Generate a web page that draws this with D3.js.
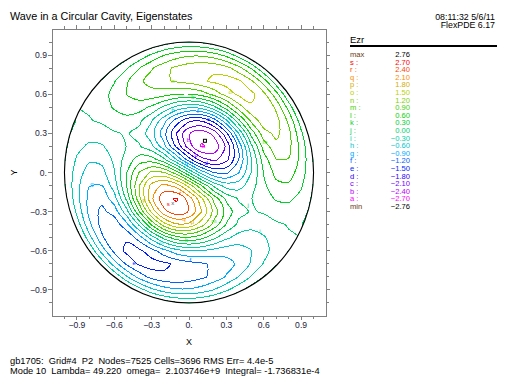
<!DOCTYPE html>
<html>
<head>
<meta charset="utf-8">
<script src="https://cdn.jsdelivr.net/npm/d3@7"></script>
<style>
  body { margin: 0; background: #fff; }
  text { font-family: "Liberation Sans", Arial, sans-serif; }
</style>
</head>
<body>
<div id="chart"></div>
<script>
// chart size and frame
const width = 512
const height = 384
const frame = { left: 52, right: 326, top: 29, bottom: 316 }

// contour levels (legend)
const levelLetters = ['a','b','c','d','e','f','g','h','i','j','k','l','m','n','o','p','q','r','s']
const levelValues = [-2.70,-2.40,-2.10,-1.80,-1.50,-1.20,-0.90,-0.60,-0.30,0.00,0.30,0.60,0.90,1.20,1.50,1.80,2.10,2.40,2.70]
const fieldMax = 2.76
const fieldMin = -2.76

// axis ticks
const axisTicks = [-0.9,-0.6,-0.3,0,0.3,0.6,0.9]
const minorTicks = [-1.0,-0.9,-0.8,-0.7,-0.6,-0.5,-0.4,-0.3,-0.2,-0.1,0,0.1,0.2,0.3,0.4,0.5,0.6,0.7,0.8,0.9,1.0]

// Ezr sampled on a grid, columns x = -1.1 .. 1.1, rows y = 1.1 (top) .. -1.1
const gridX = [-1.1,-1.0,-0.9,-0.8,-0.7,-0.6,-0.5,-0.4,-0.3,-0.2,-0.1,0,0.1,0.2,0.3,0.4,0.5,0.6,0.7,0.8,0.9,1.0,1.1]
const gridY = [1.1,1.0,0.9,0.8,0.7,0.6,0.5,0.4,0.3,0.2,0.1,0,-0.1,-0.2,-0.3,-0.4,-0.5,-0.6,-0.7,-0.8,-0.9,-1.0,-1.1]
const ezr = [
  [0.22,0.10,-0.09,-0.32,-0.52,-0.69,-0.79,-0.82,-0.81,-0.78,-0.76,-0.77,-0.83,-0.94,-1.08,-1.22,-1.29,-1.26,-1.05,-0.72,-0.24,0.29,0.73],
  [0.07,-0.09,-0.28,-0.46,-0.59,-0.63,-0.57,-0.45,-0.30,-0.15,-0.04,0.00,-0.05,-0.19,-0.41,-0.70,-0.99,-1.21,-1.28,-1.15,-0.79,-0.29,0.28],
  [-0.05,-0.20,-0.35,-0.45,-0.46,-0.35,-0.16,0.09,0.35,0.59,0.76,0.85,0.85,0.74,0.51,0.15,-0.29,-0.74,-1.10,-1.25,-1.14,-0.77,-0.22],
  [-0.10,-0.22,-0.30,-0.31,-0.21,0.00,0.28,0.59,0.87,1.10,1.27,1.39,1.45,1.44,1.31,1.01,0.57,0.00,-0.57,-1.02,-1.21,-1.07,-0.65],
  [-0.08,-0.16,-0.19,-0.13,0.03,0.28,0.57,0.83,1.03,1.15,1.24,1.32,1.44,1.56,1.64,1.55,1.26,0.75,0.10,-0.55,-1.01,-1.15,-0.92],
  [-0.01,-0.06,-0.07,0.00,0.17,0.40,0.61,0.75,0.77,0.70,0.60,0.59,0.72,1.00,1.32,1.57,1.58,1.29,0.72,0.00,-0.65,-1.04,-1.05],
  [0.08,0.02,-0.01,0.04,0.17,0.33,0.45,0.43,0.24,-0.07,-0.39,-0.56,-0.48,-0.10,0.47,1.06,1.46,1.50,1.14,0.49,-0.24,-0.81,-1.02],
  [0.17,0.08,-0.01,-0.02,0.05,0.16,0.20,0.08,-0.27,-0.79,-1.33,-1.71,-1.74,-1.36,-0.63,0.25,0.99,1.39,1.31,0.83,0.12,-0.54,-0.91],
  [0.25,0.08,-0.09,-0.17,-0.14,-0.03,0.03,-0.10,-0.48,-1.10,-1.81,-2.38,-2.59,-2.31,-1.58,-0.58,0.41,1.08,1.28,0.99,0.37,-0.30,-0.76],
  [0.30,0.06,-0.21,-0.36,-0.33,-0.17,0.01,0.03,-0.23,-0.80,-1.56,-2.27,-2.73,-2.62,-2.04,-1.11,-0.08,0.73,1.11,0.99,0.50,-0.12,-0.61],
  [0.35,0.02,-0.34,-0.55,-0.52,-0.24,0.14,0.43,0.44,0.07,-0.61,-1.38,-1.98,-2.19,-1.90,-1.20,-0.32,0.46,0.90,0.89,0.52,-0.03,-0.49],
  [0.41,0.00,-0.45,-0.74,-0.70,-0.32,0.30,0.91,1.26,1.21,0.73,0.00,-0.73,-1.21,-1.26,-0.91,-0.30,0.32,0.70,0.74,0.45,0.00,-0.41],
  [0.49,0.03,-0.52,-0.89,-0.90,-0.46,0.32,1.20,1.90,2.19,1.98,1.38,0.61,-0.07,-0.44,-0.43,-0.14,0.24,0.52,0.55,0.34,-0.02,-0.35],
  [0.61,0.12,-0.50,-0.99,-1.11,-0.73,0.08,1.11,2.04,2.62,2.73,2.27,1.56,0.80,0.23,-0.03,-0.01,0.17,0.33,0.36,0.21,-0.06,-0.30],
  [0.76,0.30,-0.37,-0.99,-1.28,-1.08,-0.41,0.58,1.58,2.31,2.59,2.38,1.81,1.10,0.48,0.10,-0.03,0.03,0.14,0.17,0.09,-0.08,-0.25],
  [0.91,0.54,-0.12,-0.83,-1.31,-1.39,-0.99,-0.25,0.63,1.36,1.74,1.71,1.33,0.79,0.27,-0.08,-0.20,-0.16,-0.05,0.02,0.01,-0.08,-0.17],
  [1.02,0.81,0.24,-0.49,-1.14,-1.50,-1.46,-1.06,-0.47,0.10,0.48,0.56,0.39,0.07,-0.24,-0.43,-0.45,-0.33,-0.17,-0.04,0.01,-0.02,-0.08],
  [1.05,1.04,0.65,0.00,-0.72,-1.29,-1.58,-1.57,-1.32,-1.00,-0.72,-0.59,-0.60,-0.70,-0.77,-0.75,-0.61,-0.40,-0.17,0.00,0.07,0.06,0.01],
  [0.92,1.15,1.01,0.55,-0.10,-0.75,-1.26,-1.55,-1.64,-1.56,-1.44,-1.32,-1.24,-1.15,-1.03,-0.83,-0.57,-0.28,-0.03,0.13,0.19,0.16,0.08],
  [0.65,1.07,1.21,1.02,0.57,0.00,-0.57,-1.01,-1.31,-1.44,-1.45,-1.39,-1.27,-1.10,-0.87,-0.59,-0.28,0.00,0.21,0.31,0.30,0.22,0.10],
  [0.22,0.77,1.14,1.25,1.10,0.74,0.29,-0.15,-0.51,-0.74,-0.85,-0.85,-0.76,-0.59,-0.35,-0.09,0.16,0.35,0.46,0.45,0.35,0.20,0.05],
  [-0.28,0.29,0.79,1.15,1.28,1.21,0.99,0.70,0.41,0.19,0.05,0.00,0.04,0.15,0.30,0.45,0.57,0.63,0.59,0.46,0.28,0.09,-0.07],
  [-0.73,-0.29,0.24,0.72,1.05,1.26,1.29,1.22,1.08,0.94,0.83,0.77,0.76,0.78,0.81,0.82,0.79,0.69,0.52,0.32,0.09,-0.10,-0.22]
]

// contour labels as placed in the plot
const labelLetters = ['n','o','k','l','h','f','e','m','b','a','c','d','g','j','g','p','r','s','j','q','p','m','i','k','h','f','e']
const labelX = [-0.13,0.33,0.03,0.17,-0.13,0.07,0.155,0.61,-0.005,0.115,0.056,0.137,-0.02,-0.166,-0.78,-0.36,-0.07,-0.166,0.476,-0.04,0.027,0.2,0.57,-0.02,-0.22,0.01,-0.44]
const labelY = [0.70,0.62,0.58,0.58,0.48,0.47,0.41,0.23,0.25,0.205,0.136,0.072,0.072,0.046,-0.087,-0.21,-0.16,-0.24,-0.247,-0.36,-0.383,-0.37,-0.447,-0.515,-0.53,-0.674,-0.69]
const minAt = [0.128, 0.243]
const maxAt = [-0.13, -0.235]

const title = "Wave in a Circular Cavity, Eigenstates"
const stamp = ["08:11:32 5/6/11", "FlexPDE 6.17"]
const footer = [
  "gb1705:  Grid#4  P2  Nodes=7525 Cells=3696 RMS Err= 4.4e-5",
  "Mode 10  Lambda= 49.220  omega=  2.103746e+9  Integral= -1.736831e-4"
]

const hue = d3.scaleLinear().domain([0, levelValues.length - 1]).range([300, 0])
const levelColor = function (i) {
  const h = hue(i)
  return d3.hsl(h, 1, (h > 40 && h < 200) ? 0.41 : 0.5).formatHex()
}
const letterColor = function (l) { return levelColor(levelLetters.indexOf(l)) }

const xScale = d3.scaleLinear().domain([-1.1, 1.1]).range([frame.left, frame.right])
const yScale = d3.scaleLinear().domain([-1.1, 1.1]).range([frame.bottom, frame.top])

const svg = d3.select('#chart')
  .append('svg')
  .attr('width', width)
  .attr('height', height)

// clip to the cavity
svg.append('clipPath').attr('id', 'cavity')
  .append('ellipse')
  .attr('cx', xScale(0)).attr('cy', yScale(0))
  .attr('rx', xScale(1) - xScale(0)).attr('ry', yScale(0) - yScale(1))

// contours
const nx = gridX.length, ny = gridY.length
const gxToX = d3.scaleLinear().domain([0.5, nx - 0.5]).range([gridX[0], gridX[nx - 1]])
const gyToY = d3.scaleLinear().domain([0.5, ny - 0.5]).range([gridY[0], gridY[ny - 1]])

const contourSets = d3.contours().size([nx, ny]).thresholds(levelValues)(ezr.flat())
const ringLine = d3.line().curve(d3.curveCatmullRomClosed.alpha(0.5))

const plot = svg.append('g').attr('clip-path', 'url(#cavity)')
contourSets.forEach(function (c, i) {
  c.coordinates.forEach(function (poly) {
    poly.forEach(function (ring) {
      const pts = ring.slice(0, -1).map(p => [xScale(gxToX(p[0])), yScale(gyToY(p[1]))])
      plot.append('path')
        .attr('d', ringLine(pts))
        .attr('fill', 'none')
        .attr('stroke', levelColor(i))
        .attr('stroke-width', 1)
        .attr('shape-rendering', 'crispEdges')
    })
  })
})

// contour letters
plot.selectAll('.clabel')
  .data(labelLetters)
  .enter().append('text')
  .attr('class', 'clabel')
  .attr('x', (d, i) => xScale(labelX[i]))
  .attr('y', (d, i) => yScale(labelY[i]) + 2)
  .attr('text-anchor', 'middle')
  .style('font-size', '6px')
  .attr('fill', d => letterColor(d))
  .text(d => d)

plot.append('rect')
  .attr('x', xScale(minAt[0]) - 1.5).attr('y', yScale(minAt[1]) - 1.5)
  .attr('width', 3).attr('height', 3)
  .attr('fill', 'none').attr('stroke', '#000')
plot.append('text')
  .attr('x', xScale(maxAt[0])).attr('y', yScale(maxAt[1]) + 2)
  .attr('text-anchor', 'middle')
  .style('font-size', '6px')
  .attr('fill', '#555')
  .text('x')

// cavity wall
svg.append('ellipse')
  .attr('cx', xScale(0)).attr('cy', yScale(0))
  .attr('rx', xScale(1) - xScale(0)).attr('ry', yScale(0) - yScale(1))
  .attr('fill', 'none').attr('stroke', '#000').attr('stroke-width', 1.1)

// frame and ticks
svg.append('rect')
  .attr('x', frame.left).attr('y', frame.top)
  .attr('width', frame.right - frame.left).attr('height', frame.bottom - frame.top)
  .attr('fill', 'none').attr('stroke', '#808080').attr('shape-rendering', 'crispEdges')

const isMajor = v => axisTicks.some(t => Math.abs(t - v) < 1e-6)
const tickG = svg.append('g').attr('stroke', '#808080').attr('shape-rendering', 'crispEdges')
minorTicks.forEach(function (v) {
  const len = isMajor(v) ? 4 : 3
  tickG.append('line').attr('x1', xScale(v)).attr('x2', xScale(v)).attr('y1', frame.bottom).attr('y2', frame.bottom + len)
  tickG.append('line').attr('x1', xScale(v)).attr('x2', xScale(v)).attr('y1', frame.top).attr('y2', frame.top - len)
  tickG.append('line').attr('y1', yScale(v)).attr('y2', yScale(v)).attr('x1', frame.left).attr('x2', frame.left - len)
  tickG.append('line').attr('y1', yScale(v)).attr('y2', yScale(v)).attr('x1', frame.right).attr('x2', frame.right + len)
})

const tickText = v => v === 0 ? '0.' : d3.format('.1f')(v)
svg.selectAll('.xtick')
  .data(axisTicks).enter().append('text')
  .attr('x', d => xScale(d)).attr('y', frame.bottom + 12)
  .attr('text-anchor', 'middle')
  .style('font-size', '8.6px').attr('fill', '#1c1c3c')
  .text(tickText)
svg.selectAll('.ytick')
  .data(axisTicks).enter().append('text')
  .attr('x', frame.left - 5).attr('y', d => yScale(d) + 3)
  .attr('text-anchor', 'end')
  .style('font-size', '8.6px').attr('fill', '#1c1c3c')
  .text(tickText)

svg.append('text').attr('x', xScale(0)).attr('y', 345)
  .attr('text-anchor', 'middle').style('font-size', '9px').text('X')
svg.append('text').attr('transform', 'translate(17,' + yScale(0) + ') rotate(-90)')
  .attr('text-anchor', 'middle').style('font-size', '9px').text('Y')

// titles
svg.append('text').attr('x', 10).attr('y', 20).style('font-size', '10.8px').text(title)
svg.selectAll('.stamp').data(stamp).enter().append('text')
  .attr('x', 495).attr('y', (d, i) => 19.5 + i * 8.8)
  .attr('text-anchor', 'end').style('font-size', '8.8px').text(d => d)
svg.selectAll('.footer').data(footer).enter().append('text')
  .attr('x', 10).attr('y', (d, i) => 363.5 + i * 10.7)
  .style('font-size', '9.3px').style('white-space', 'pre').text(d => d)

// legend
const legend = svg.append('g')
legend.append('text').attr('x', 350).attr('y', 42.5).style('font-size', '9.5px').text('Ezr')
legend.append('line').attr('x1', 350).attr('x2', 497).attr('y1', 46).attr('y2', 46)
  .attr('stroke', '#000').attr('stroke-width', 2)

const rows = [{ key: 'max', val: fieldMax, color: '#000' }]
  .concat(levelValues.map((v, i) => ({ key: levelLetters[i] + ' :', val: v, color: levelColor(i) })).reverse())
  .concat([{ key: 'min', val: fieldMin, color: '#000' }])

const rowG = legend.selectAll('.lrow').data(rows).enter().append('g')
  .attr('transform', (d, i) => 'translate(0,' + (57 + i * 7.6) + ')')
rowG.append('text').attr('x', 350).style('font-size', '7.6px')
  .attr('fill', d => d.key === 'max' || d.key === 'min' ? '#6a3a10' : d.color).text(d => d.key)
rowG.append('text').attr('x', 410).attr('text-anchor', 'end').style('font-size', '7.6px')
  .attr('fill', d => d.color).text(d => d3.format('.2f')(d.val))
</script>
</body>
</html>
